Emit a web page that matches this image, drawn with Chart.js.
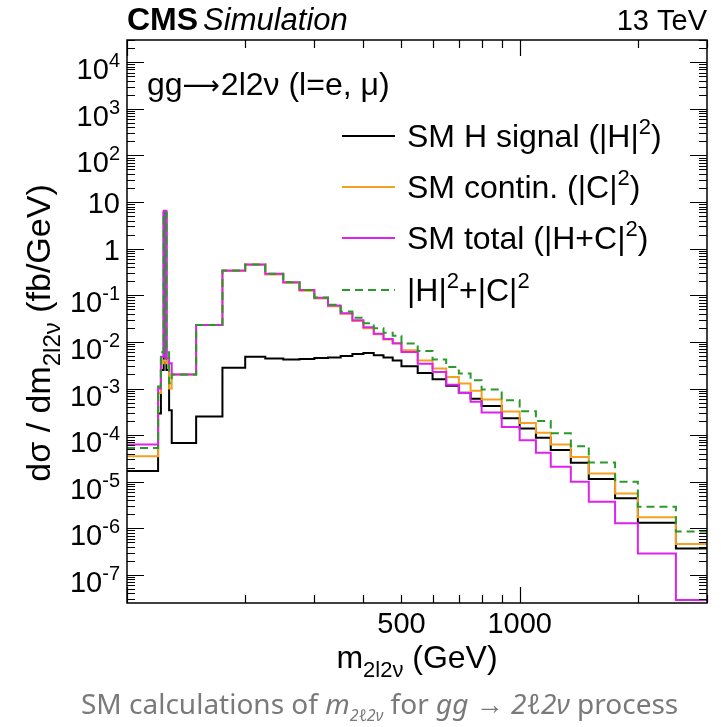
<!DOCTYPE html>
<html>
<head>
<meta charset="utf-8">
<script src="https://cdn.jsdelivr.net/npm/chart.js@4.4.0/dist/chart.umd.min.js"></script>
<style>
  html, body { margin: 0; padding: 0; background: #fff; }
  #wrap { position: relative; width: 721px; height: 727px; }
  #caption {
    position: absolute; left: 81px; top: 684px;
    font-family: 'Noto Sans', 'Open Sans', sans-serif; font-size: 28px; color: #7a7a7a;
    white-space: nowrap;
  }
  #caption sub { font-size: 16px; }
</style>
</head>
<body>
<div id="wrap">
  <canvas id="chart" width="721" height="727"></canvas>
  <div id="caption">SM calculations of <i>m</i><sub><i>2ℓ2ν</i></sub> for <i>gg</i> → <i>2ℓ2ν</i> process</div>
</div>
<script>
// m(2l2v) bin edges, GeV
const binEdges = [100, 120, 122, 124, 126, 128, 130, 150, 175, 200, 225, 250, 275, 300,
  325, 350, 375, 400, 425, 450, 475, 500, 550, 600, 650, 700, 750, 800, 900, 1000,
  1100, 1200, 1350, 1500, 1750, 2000, 2500, 3000];

// d(sigma)/dm in fb/GeV, one value per bin
const higgsSignal = [1.7e-5, 2.9e-4, 2.5e-3, 6.0, 2.5e-3, 3.4e-4, 6.8e-5, 2.5e-4, 2.8e-3,
  4.8e-3, 4.4e-3, 4.2e-3, 4.3e-3, 4.5e-3, 4.6e-3, 5.0e-3, 5.5e-3, 5.8e-3, 5.2e-3, 4.6e-3,
  4.0e-3, 3.0e-3, 2.16e-3, 1.58e-3, 1.14e-3, 8.1e-4, 6.0e-4, 4.2e-4, 2.3e-4, 1.39e-4,
  8.8e-5, 4.8e-5, 2.55e-5, 1.14e-5, 4.4e-6, 1.32e-6, 3.7e-7];
const continuum = [3.5e-5, 8e-4, 3.5e-3, 4e-3, 3.5e-3, 1.0e-3, 2.0e-3, 0.023, 0.33,
  0.45, 0.28, 0.185, 0.125, 0.085, 0.058, 0.04, 0.028, 0.0195, 0.0145, 0.0112,
  0.0095, 6.6e-3, 4.0e-3, 2.7e-3, 1.77e-3, 1.28e-3, 8.9e-4, 5.8e-4, 3.2e-4, 1.83e-4,
  1.12e-4, 6.3e-5, 3.4e-5, 1.5e-5, 5.6e-6, 1.72e-6, 4.6e-7];
const totalHC = [6.3e-5, 1.0e-3, 4.8e-3, 6.5, 4.5e-3, 3.5e-3, 2.0e-3, 0.023, 0.34,
  0.46, 0.29, 0.19, 0.13, 0.088, 0.06, 0.041, 0.029, 0.0205, 0.015, 0.0115,
  9.2e-3, 6.1e-3, 3.4e-3, 2.27e-3, 1.2e-3, 8.0e-4, 5.2e-4, 3.05e-4, 1.5e-4, 7.8e-5,
  4.2e-5, 2.1e-5, 1.0e-5, 3.7e-6, 1.28e-6, 2.9e-7, 2.9e-8];
const sumH2C2 = [5.3e-5, 1.1e-3, 6e-3, 6.0, 6e-3, 1.3e-3, 2.0e-3, 0.023, 0.34,
  0.46, 0.29, 0.19, 0.13, 0.09, 0.063, 0.045, 0.033, 0.025, 0.0197, 0.0158,
  0.0135, 9.2e-3, 6.4e-3, 4.2e-3, 2.9e-3, 2.1e-3, 1.5e-3, 9.5e-4, 5.6e-4, 3.27e-4,
  2.0e-4, 1.09e-4, 5.8e-5, 2.6e-5, 1.0e-5, 2.9e-6, 8.5e-7];

const seriesLabels = ['SM H signal (|H|^{2})', 'SM contin. (|C|^{2})',
  'SM total (|H+C|^{2})', '|H|^{2}+|C|^{2}'];

const xLabelValues = [500, 1000];
const yLabelValues = [1e-7, 1e-6, 1e-5, 1e-4, 1e-3, 1e-2, 1e-1, 1, 10, 1e2, 1e3, 1e4];
const yLabelTexts = ['10^{-7}', '10^{-6}', '10^{-5}', '10^{-4}', '10^{-3}', '10^{-2}',
  '10^{-1}', '1', '10', '10^{2}', '10^{3}', '10^{4}'];

const FONT = "'Liberation Sans', Arial, Helvetica, sans-serif";
const BLACK = '#000000';
const ORANGE = '#f5a020';
const MAGENTA = '#dd22ee';
const GREEN = '#2a9a2a';

// histogram outline: one point per lower edge plus the last upper edge
function histPoints(values) {
  const pts = values.map((v, i) => ({ x: binEdges[i], y: v }));
  pts.push({ x: binEdges[binEdges.length - 1], y: values[values.length - 1] });
  return pts;
}

// text with ^{..} / _{..} pieces, y is the baseline
function drawRich(ctx, str, x, y, size, align, style, family) {
  const parts = [];
  const re = /([\^_])\{([^}]*)\}/g;
  let last = 0, m;
  while ((m = re.exec(str))) {
    if (m.index > last) parts.push({ t: str.slice(last, m.index), k: '' });
    parts.push({ t: m[2], k: m[1] });
    last = re.lastIndex;
  }
  if (last < str.length) parts.push({ t: str.slice(last), k: '' });
  const fontFor = (p) => `${style || ''} ${p.k ? Math.round(size * 0.7) : size}px ${family || FONT}`;
  let w = 0;
  parts.forEach((p) => { ctx.font = fontFor(p); p.w = ctx.measureText(p.t).width; w += p.w; });
  let cx = align === 'right' ? x - w : align === 'center' ? x - w / 2 : x;
  ctx.textAlign = 'left';
  ctx.textBaseline = 'alphabetic';
  parts.forEach((p) => {
    ctx.font = fontFor(p);
    const dy = p.k === '^' ? -size * 0.42 : p.k === '_' ? size * 0.28 : 0;
    ctx.fillText(p.t, cx, y + dy);
    cx += p.w;
  });
  return w;
}

function logTicks(min, max) {
  const out = [];
  for (let e = -9; e <= 5; e++) {
    for (let k = 1; k <= 9; k++) {
      const v = parseFloat((k * Math.pow(10, e)).toPrecision(3));
      if (v >= min * 0.999 && v <= max * 1.001) out.push({ value: v, major: k === 1 });
    }
  }
  return out;
}

// ROOT-like frame, inward ticks, labels, titles and legend
const cmsDecor = {
  id: 'cmsDecor',
  afterDraw(chart) {
    const { ctx, chartArea: a, scales } = chart;
    const xs = scales.x, ys = scales.y;
    ctx.save();
    ctx.strokeStyle = '#000';
    ctx.fillStyle = '#000';
    ctx.lineWidth = 1.5;
    ctx.strokeRect(a.left, a.top, a.right - a.left, a.bottom - a.top);

    ctx.lineWidth = 1.2;
    ctx.beginPath();
    ys.ticks.forEach((t) => {
      const py = Math.round(ys.getPixelForValue(t.value)) + 0.5;
      const len = t.major ? 17 : 8;
      ctx.moveTo(a.left, py); ctx.lineTo(a.left + len, py);
      ctx.moveTo(a.right, py); ctx.lineTo(a.right - len, py);
    });
    xs.ticks.forEach((t) => {
      const px = Math.round(xs.getPixelForValue(t.value)) + 0.5;
      const len = t.major ? 16 : 8;
      ctx.moveTo(px, a.bottom); ctx.lineTo(px, a.bottom - len);
      ctx.moveTo(px, a.top); ctx.lineTo(px, a.top + len);
    });
    ctx.stroke();

    // y tick labels
    yLabelValues.forEach((v, i) => {
      const py = ys.getPixelForValue(v);
      const txt = yLabelTexts[i];
      const base = txt.includes('^') ? py + 17 : py + 11;
      drawRich(ctx, txt, 120, base, 29, 'right');
    });
    // x tick labels
    xLabelValues.forEach((v) => {
      drawRich(ctx, String(v), xs.getPixelForValue(v), 633, 29, 'center');
    });

    // axis titles
    drawRich(ctx, 'm_{2l2\u03bd} (GeV)', (a.left + a.right) / 2, 668, 32, 'center');
    ctx.save();
    ctx.translate(50, 333);
    ctx.rotate(-Math.PI / 2);
    drawRich(ctx, 'd\u03c3 / dm_{2l2\u03bd} (fb/GeV)', 0, 0, 34, 'center');
    ctx.restore();

    // header
    const w = drawRich(ctx, 'CMS', 127, 30, 32, 'left', 'bold');
    drawRich(ctx, 'Simulation', 127 + w + 5, 30, 31, 'left', 'italic');
    drawRich(ctx, '13 TeV', a.right, 30, 29, 'right');

    // process label (long thin ROOT-style arrow)
    let px = 147;
    px += drawRich(ctx, 'gg', px, 95, 32, 'left');
    px += drawRich(ctx, '\u27f6', px, 94, 26, 'left', '', "'DejaVu Sans', sans-serif");
    drawRich(ctx, '2l2\u03bd (l=e, \u03bc)', px + 1, 95, 32, 'left');

    // legend
    const rows = [136, 187, 238, 290];
    chart.data.datasets.forEach((ds, i) => {
      const y = rows[i];
      ctx.save();
      ctx.strokeStyle = ds.borderColor;
      ctx.lineWidth = 2;
      ctx.setLineDash(ds.borderDash || []);
      ctx.beginPath();
      ctx.moveTo(342, y); ctx.lineTo(395, y);
      ctx.stroke();
      ctx.restore();
      drawRich(ctx, seriesLabels[i], 407, y + 11, 32, 'left');
    });
    ctx.restore();
  },
};

const common = { borderWidth: 2, pointRadius: 0, stepped: 'before', fill: false, tension: 0 };

new Chart(document.getElementById('chart'), {
  type: 'line',
  data: {
    datasets: [
      { ...common, label: seriesLabels[0], data: histPoints(higgsSignal), borderColor: BLACK, order: 3 },
      { ...common, label: seriesLabels[1], data: histPoints(continuum), borderColor: ORANGE, order: 2 },
      { ...common, label: seriesLabels[2], data: histPoints(totalHC), borderColor: MAGENTA, order: 1 },
      { ...common, label: seriesLabels[3], data: histPoints(sumH2C2), borderColor: GREEN, borderDash: [8, 5], order: 0 },
    ],
  },
  options: {
    responsive: false,
    animation: false,
    layout: { padding: { top: 40, right: 14, left: 0, bottom: 0 } },
    plugins: { legend: { display: false }, tooltip: { enabled: false } },
    scales: {
      x: {
        type: 'logarithmic',
        min: 100,
        max: 3000,
        grid: { display: false },
        border: { display: false },
        ticks: { display: false },
        afterBuildTicks: (axis) => { axis.ticks = logTicks(100, 3000); },
        afterFit: (axis) => { axis.height = 124; },
      },
      y: {
        type: 'logarithmic',
        min: 2.5e-8,
        max: 3.0e4,
        grid: { display: false },
        border: { display: false },
        ticks: { display: false },
        afterBuildTicks: (axis) => { axis.ticks = logTicks(2.5e-8, 3.0e4); },
        afterFit: (axis) => { axis.width = 127; },
      },
    },
  },
  plugins: [cmsDecor],
});
</script>
</body>
</html>
